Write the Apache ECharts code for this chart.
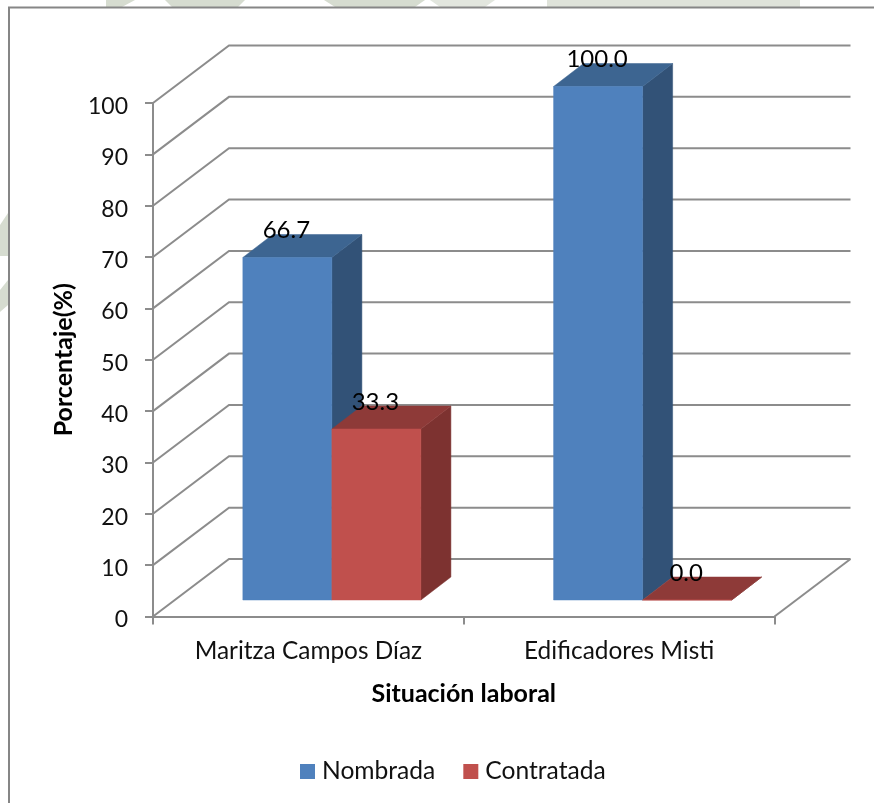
<!DOCTYPE html>
<html>
<head>
<meta charset="utf-8">
<style>html,body{margin:0;padding:0;background:#fff}#chart{width:874px;height:803px}</style>
<script src="https://cdn.jsdelivr.net/npm/echarts@6/dist/echarts.min.js"></script>
</head>
<body>
<div id="chart"></div>
<script>
const categories = ['Maritza Campos Díaz', 'Edificadores Misti'];
const nombrada = [66.7, 100.0];
const contratada = [33.3, 0.0];
const yTicks = [0, 10, 20, 30, 40, 50, 60, 70, 80, 90, 100];

const FONT = 'Lato, "Open Sans", sans-serif';
const WALL_DX = 76, WALL_DY = 57.5;     // depth of the floor and back wall
const BAR_DX = 30, BAR_DY = 23;         // depth of each column
const BAR_SHIFT_X = 23.5, BAR_SHIFT_Y = 16.5; // columns stand in the middle of the floor
const BAR_SHARE = 0.2865;               // column width as a share of the category band
const LINE = '#8c8c8c';

// Back-wall gridlines and the floor outline, one per value tick
function renderWall(params, api) {
  const v = api.value(0);
  const cs = params.coordSys;
  const y = api.coord([0, v])[1];
  const left = cs.x, right = cs.x + cs.width;
  const shape = { points: [[left, y], [left + WALL_DX, y - WALL_DY], [right + WALL_DX, y - WALL_DY]] };
  const children = [{ type: 'polyline', shape, style: { fill: 'none', stroke: LINE, lineWidth: 2 } }];
  if (v === 0) {
    children.push({
      type: 'polyline',
      shape: { points: [[right, y], [right + WALL_DX, y - WALL_DY]] },
      style: { fill: 'none', stroke: LINE, lineWidth: 2 }
    });
  }
  return { type: 'group', children };
}

// One extruded column: front, side and top faces plus the value above it
function columnRenderer(side, colors) {
  return function (params, api) {
    const i = api.value(0), v = api.value(1);
    const band = api.size([1, 0])[0];
    const w = band * BAR_SHARE;
    const cx = api.coord([i, 0])[0] + BAR_SHIFT_X;
    const x0 = side < 0 ? cx - w : cx;
    const x1 = x0 + w;
    const base = api.coord([i, 0])[1] - BAR_SHIFT_Y;
    const top = api.coord([i, v])[1] - BAR_SHIFT_Y;
    const face = (pts, fill) => ({
      type: 'polygon', shape: { points: pts },
      style: { fill, stroke: fill, lineWidth: 0.5 }
    });
    return {
      type: 'group',
      children: [
        face([[x1, base], [x1 + BAR_DX, base - BAR_DY], [x1 + BAR_DX, top - BAR_DY], [x1, top]], colors.side),
        face([[x0, top], [x0 + BAR_DX, top - BAR_DY], [x1 + BAR_DX, top - BAR_DY], [x1, top]], colors.top),
        face([[x0, base], [x1, base], [x1, top], [x0, top]], colors.front),
        {
          type: 'text', z2: 10,
          style: {
            text: v.toFixed(1), x: (x0 + x1) / 2 - 1, y: top - 27,
            align: 'center', verticalAlign: 'middle',
            font: '24px ' + FONT, fill: '#000'
          }
        }
      ]
    };
  };
}

const blue = { front: '#4f81bd', side: '#325277', top: '#3d6591' };
const red = { front: '#c0504d', side: '#7d3230', top: '#8e3a38' };
const wash = '#d6dcd0';

const chart = echarts.init(document.getElementById('chart'), null, { renderer: 'canvas' });
chart.setOption({
  animation: false,
  backgroundColor: '#fff',
  textStyle: { fontFamily: FONT },
  graphic: [
    // Pale letterhead pattern showing around the chart frame
    { type: 'polygon', silent: true, z: -10, shape: { points: [[106, 0], [135, 0], [122, 7], [106, 7]] }, style: { fill: wash } },
    { type: 'polygon', silent: true, z: -10, shape: { points: [[165, 0], [245, 0], [238, 7], [172, 7]] }, style: { fill: wash } },
    { type: 'polygon', silent: true, z: -10, shape: { points: [[324, 0], [425, 0], [415, 7], [335, 7]] }, style: { fill: wash } },
    { type: 'polygon', silent: true, z: -10, shape: { points: [[430, 0], [495, 0], [485, 7], [440, 7]] }, style: { fill: '#e2e6de' } },
    { type: 'polygon', silent: true, z: -10, shape: { points: [[547, 0], [800, 0], [800, 7], [547, 7]] }, style: { fill: '#dfe3da' } },
    { type: 'polygon', silent: true, z: -10, shape: { points: [[8, 213], [8, 256], [0, 256], [0, 225]] }, style: { fill: wash } },
    { type: 'polygon', silent: true, z: -10, shape: { points: [[8, 280], [8, 305], [0, 312], [0, 290]] }, style: { fill: wash } },
    // Chart frame, open towards the right and bottom edges
    {
      type: 'polyline', silent: true, z: -5,
      shape: { points: [[9, 803], [9, 7.5], [874, 7.5]] },
      style: { fill: 'none', stroke: '#868686', lineWidth: 2 }
    }
  ],
  legend: {
    show: true,
    left: 295, top: 754,
    icon: 'rect',
    itemWidth: 15, itemHeight: 15, itemGap: 28,
    textStyle: { fontFamily: FONT, fontSize: 24.6, color: '#111', padding: [0, 0, 0, 2] },
    data: ['Nombrada', 'Contratada']
  },
  grid: { left: 153, top: 103, width: 621.5, height: 513.5, containLabel: false },
  xAxis: {
    type: 'category',
    data: categories,
    axisLine: { lineStyle: { color: LINE, width: 2 } },
    axisTick: { show: true, alignWithLabel: false, length: 8, lineStyle: { color: LINE, width: 2 } },
    axisLabel: { color: '#111', fontFamily: FONT, fontSize: 24.4, margin: 23 },
    name: 'Situación laboral',
    nameLocation: 'middle',
    nameGap: 65,
    nameTextStyle: { color: '#000', fontFamily: FONT, fontSize: 25, fontWeight: 'bold' }
  },
  yAxis: {
    type: 'value',
    min: 0, max: 100, interval: 10,
    splitLine: { show: false },
    axisLine: { show: true, lineStyle: { color: LINE, width: 2 } },
    axisTick: { show: true, length: 8, lineStyle: { color: LINE, width: 2 } },
    axisLabel: { color: '#111', fontFamily: FONT, fontSize: 23, margin: 25, verticalAlign: 'top', lineHeight: 7 },
    name: 'Porcentaje(%)',
    nameLocation: 'middle',
    nameGap: 77,
    nameTextStyle: { color: '#000', fontFamily: FONT, fontSize: 25, fontWeight: 'bold' }
  },
  series: [
    {
      name: 'wall', type: 'custom', silent: true, z: 1, clip: false,
      renderItem: renderWall,
      encode: { y: 0 },
      data: yTicks.map(v => [v])
    },
    {
      name: 'Nombrada', type: 'custom', z: 2, clip: false,
      renderItem: columnRenderer(-1, blue),
      itemStyle: { color: blue.front },
      encode: { x: 0, y: 1 },
      data: nombrada.map((v, i) => [i, v])
    },
    {
      name: 'Contratada', type: 'custom', z: 3, clip: false,
      renderItem: columnRenderer(1, red),
      itemStyle: { color: red.front },
      encode: { x: 0, y: 1 },
      data: contratada.map((v, i) => [i, v])
    }
  ]
});
</script>
</body>
</html>
